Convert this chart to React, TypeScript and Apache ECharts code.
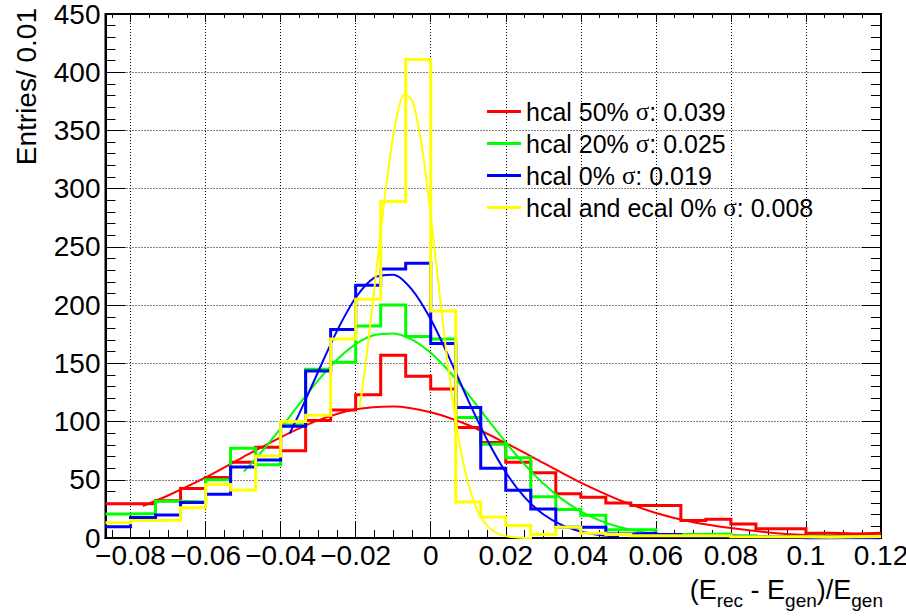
import React, { useEffect, useRef } from 'react';
import * as echarts from 'echarts';

// ---------- data ----------
const BIN_WIDTH = 0.02 / 3;
const FIRST_EDGE = -13 * BIN_WIDTH;
const X_MAX = 0.12;

const seriesNames = [
  'hcal 50% σ: 0.039',
  'hcal 20% σ: 0.025',
  'hcal 0% σ: 0.019',
  'hcal and ecal 0% σ: 0.008',
];
const seriesColors = ['#ff0000', '#00ff00', '#0000ff', '#ffff00'];

// bin contents (31 bins)
const hcal50 = [29.5, 29.5, 32, 42.5, 52, 65, 78, 75, 101, 110, 123, 157, 139, 128, 95, 82, 65, 56, 38, 35, 30, 28, 28, 15, 16, 12, 8, 8, 4, 3.5, 4];
const hcal20 = [20.6, 21, 31.5, 31, 50, 77, 63, 97, 145, 151, 182, 200, 173, 171, 103.5, 80.5, 69, 35.5, 24.5, 19.5, 7, 7, 3, 3, 3.5, 2, 1.2, 1.2, 1, 1, 0.5];
const hcal0 = [9.7, 17.5, 19.7, 30.5, 37.5, 61, 67, 96, 143.5, 179, 217, 231, 236, 167, 112, 60, 41, 25, 9.3, 9.3, 3.5, 4, 3, 1.5, 1.5, 1, 1, 1, 0, 0.5, 0];
const hcalEcal0 = [13, 15, 15.3, 26, 46, 41.3, 70.4, 100, 105.5, 171, 205, 289, 411, 195, 31, 18, 10.8, 3, 9.3, 4, 3, 2, 2, 2, 2, 1, 1, 1, 0.6, 1, 1.2];

// fitted curves, points
const fit50X = [-0.0767, -0.07, -0.06, -0.05, -0.04, -0.03, -0.02, -0.01, 0, 0.01, 0.02, 0.03, 0.04, 0.05, 0.06, 0.07, 0.08, 0.09, 0.1, 0.11, 0.12];
const fit50Y = [27.5, 36.5, 52, 69.5, 86.5, 101, 110.5, 113, 108, 97, 81.5, 64.5, 47.5, 33, 21.5, 13.5, 8.5, 4.8, 2.5, 1.2, 0.5];

const fit20X = [-0.0498, -0.045, -0.04, -0.035, -0.03, -0.025, -0.02, -0.015, -0.01, -0.005, 0, 0.005, 0.01, 0.015, 0.02, 0.025, 0.03, 0.035, 0.04, 0.045, 0.05, 0.055, 0.06];
const fit20Y = [57, 74.3, 94.2, 115.1, 135.3, 153, 166.5, 174.3, 175.7, 170.4, 159, 142.8, 123.4, 102.6, 82.1, 63.2, 46.8, 33.4, 22.9, 15.1, 9.6, 5.9, 3.5];

const fit0X = [-0.0376, -0.035, -0.03, -0.025, -0.02, -0.015, -0.01, -0.005, 0, 0.005, 0.01, 0.015, 0.02, 0.025, 0.03, 0.035, 0.04, 0.045, 0.05];
const fit0Y = [89.7, 107, 142.8, 177.7, 206.3, 223.6, 226.1, 213.3, 187.8, 154.3, 118.2, 84.6, 56.4, 35.1, 20.4, 11.1, 5.6, 2.6, 1.2];

const fitEcalX = [-0.0189, -0.017, -0.015, -0.013, -0.011, -0.009, -0.007, -0.005, -0.003, -0.001, 0.001, 0.003, 0.005, 0.007, 0.009, 0.011, 0.013, 0.015, 0.017, 0.019, 0.021, 0.024, 0.027];
const fitEcalY = [112.7, 158.8, 214.4, 271.8, 323.8, 362.4, 381, 376.2, 349, 304.2, 249.1, 191.5, 138.4, 93.9, 59.9, 35.9, 20.2, 10.7, 5.3, 2.5, 1.1, 0.3, 0.1];

const xMajorTicks = [-0.08, -0.06, -0.04, -0.02, 0, 0.02, 0.04, 0.06, 0.08, 0.1, 0.12];
const xMinorTicks = [-0.085, -0.075, -0.07, -0.065, -0.055, -0.05, -0.045, -0.035, -0.03, -0.025, -0.015, -0.01, -0.005, 0.005, 0.01, 0.015, 0.025, 0.03, 0.035, 0.045, 0.05, 0.055, 0.065, 0.07, 0.075, 0.085, 0.09, 0.095, 0.105, 0.11, 0.115];

const Y_MAX = 450;
const Y_STEP = 50;

const yTitle = 'Entries/ 0.01';

// ---------- helpers ----------
const FONT = "'Liberation Sans', Arial, Helvetica, sans-serif";

function histOutline(counts: number[]) {
  const pts: number[][] = [];
  counts.forEach((c, i) => {
    const x0 = FIRST_EDGE + i * BIN_WIDTH;
    pts.push([x0, c], [x0 + BIN_WIDTH, c]);
  });
  return pts;
}

function zip(xs: number[], ys: number[]) {
  return xs.map((x, i) => [x, ys[i]]);
}

function fmtX(v: number) {
  const r = Math.round(v * 1000) / 1000;
  return r < 0 ? '\u2212' + String(-r) : String(r);
}

const hists = [hcal50, hcal20, hcal0, hcalEcal0];
const fits = [
  zip(fit50X, fit50Y),
  zip(fit20X, fit20Y),
  zip(fit0X, fit0Y),
  zip(fitEcalX, fitEcalY),
];

function buildOption() {
  const series: any[] = [];
  hists.forEach((h, i) => {
    series.push({
      type: 'line',
      name: seriesNames[i],
      data: histOutline(h),
      color: seriesColors[i],
      symbol: 'none',
      showSymbol: false,
      silent: true,
      lineStyle: { color: seriesColors[i], width: 3, join: 'miter', cap: 'butt' },
      xAxisIndex: 0,
      yAxisIndex: 0,
    });
    series.push({
      type: 'line',
      name: 'fit ' + i,
      data: fits[i],
      color: seriesColors[i],
      symbol: 'none',
      showSymbol: false,
      smooth: 0.3,
      silent: true,
      lineStyle: { color: seriesColors[i], width: 2 },
      xAxisIndex: 0,
      yAxisIndex: 0,
    });
  });

  const black = '#000';
  const dotted = { type: [1, 2], color: black, width: 1 };

  const xBase = {
    type: 'value',
    min: FIRST_EDGE,
    max: X_MAX,
  };

  return {
    animation: false,
    backgroundColor: '#fff',
    grid: {
      left: 105.5,
      right: 25,
      top: 14,
      bottom: 78,
      show: true,
      borderColor: black,
      borderWidth: 2,
      backgroundColor: 'transparent',
      containLabel: false,
      outerBoundsMode: 'none',
    },
    legend: {
      data: seriesNames,
      orient: 'vertical',
      left: 487,
      top: 99,
      padding: 0,
      itemWidth: 34,
      itemHeight: 3,
      itemGap: 7,
      icon: 'rect',
      selectedMode: false,
      formatter: (name: string) => name.replace('σ', '{s|σ}'),
      textStyle: {
        fontSize: 25,
        lineHeight: 25,
        fontFamily: FONT,
        color: black,
        rich: {
          s: { fontSize: 25, fontFamily: "'Liberation Serif', 'DejaVu Serif', serif", color: black },
        },
      },
    },
    xAxis: [
      {
        ...xBase,
        position: 'bottom',
        axisLine: { show: true, onZero: false, lineStyle: { color: black, width: 2 } },
        axisTick: { show: true, inside: true, length: 17, customValues: xMajorTicks, lineStyle: { color: black, width: 1 } },
        axisLabel: {
          show: true,
          customValues: xMajorTicks,
          formatter: fmtX,
          fontSize: 28,
          fontFamily: FONT,
          color: black,
          margin: 3,
          showMinLabel: true,
          showMaxLabel: true,
          hideOverlap: false,
        },
        splitLine: { show: true, lineStyle: dotted },
        minorTick: { show: false },
      },
      {
        ...xBase,
        position: 'bottom',
        axisLine: { show: false, onZero: false },
        axisTick: { show: true, inside: true, length: 8, customValues: xMinorTicks, lineStyle: { color: black, width: 1 } },
        axisLabel: { show: false },
        splitLine: { show: false },
      },
      {
        ...xBase,
        position: 'top',
        axisLine: { show: false, onZero: false },
        axisTick: { show: true, inside: true, length: 8, customValues: xMajorTicks, lineStyle: { color: black, width: 1 } },
        axisLabel: { show: false },
        splitLine: { show: false },
      },
      {
        ...xBase,
        position: 'top',
        axisLine: { show: false, onZero: false },
        axisTick: { show: true, inside: true, length: 4, customValues: xMinorTicks, lineStyle: { color: black, width: 1 } },
        axisLabel: { show: false },
        splitLine: { show: false },
      },
    ],
    yAxis: [
      {
        type: 'value',
        position: 'left',
        min: 0,
        max: Y_MAX,
        interval: Y_STEP,
        axisLine: { show: true, onZero: false, lineStyle: { color: black, width: 2 } },
        axisTick: { show: true, inside: true, length: 20, lineStyle: { color: black, width: 1 } },
        minorTick: { show: true, splitNumber: 5, length: 10, lineStyle: { color: black, width: 1 } },
        axisLabel: { fontSize: 28, fontFamily: FONT, color: black, margin: 5, showMinLabel: true, showMaxLabel: true, hideOverlap: false },
        splitLine: { show: true, lineStyle: dotted },
        minorSplitLine: { show: false },
      },
      {
        type: 'value',
        position: 'right',
        min: 0,
        max: Y_MAX,
        interval: Y_STEP,
        axisLine: { show: false, onZero: false },
        axisTick: { show: true, inside: true, length: 19, lineStyle: { color: black, width: 1 } },
        minorTick: { show: true, splitNumber: 5, length: 10, lineStyle: { color: black, width: 1 } },
        axisLabel: { show: false },
        splitLine: { show: false },
      },
    ],
    graphic: [
      {
        type: 'text',
        x: 40,
        y: 8,
        rotation: Math.PI / 2,
        silent: true,
        style: {
          text: yTitle,
          fontSize: 28,
          fontFamily: FONT,
          fill: black,
          textAlign: 'right',
          textVerticalAlign: 'bottom',
          align: 'right',
          verticalAlign: 'bottom',
        },
      },
      {
        type: 'text',
        x: 883,
        y: 576,
        silent: true,
        style: {
          text: '{m|(E}{sub|rec}{m| - E}{sub|gen}{m|)/E}{sub|gen}',
          fontSize: 27,
          fontFamily: FONT,
          fill: black,
          textAlign: 'right',
          textVerticalAlign: 'top',
          align: 'right',
          verticalAlign: 'top',
          rich: {
            m: { fontSize: 27, lineHeight: 27, fontFamily: FONT, verticalAlign: 'top', color: black, fill: black },
            sub: { fontSize: 19, lineHeight: 19, fontFamily: FONT, verticalAlign: 'top', padding: [15, 0, 0, 0], color: black, fill: black },
          },
        },
      },
    ],
    series,
  };
}

export default function App() {
  const ref = useRef<HTMLDivElement>(null);
  useEffect(() => {
    if (!ref.current) return;
    const chart = echarts.init(ref.current, null, { renderer: 'svg' });
    chart.setOption(buildOption() as any);
    return () => {
      chart.dispose();
    };
  }, []);
  return (
    <div
      ref={ref}
      style={{ position: 'fixed', left: 0, top: 0, width: 906, height: 616, background: '#fff' }}
    />
  );
}
